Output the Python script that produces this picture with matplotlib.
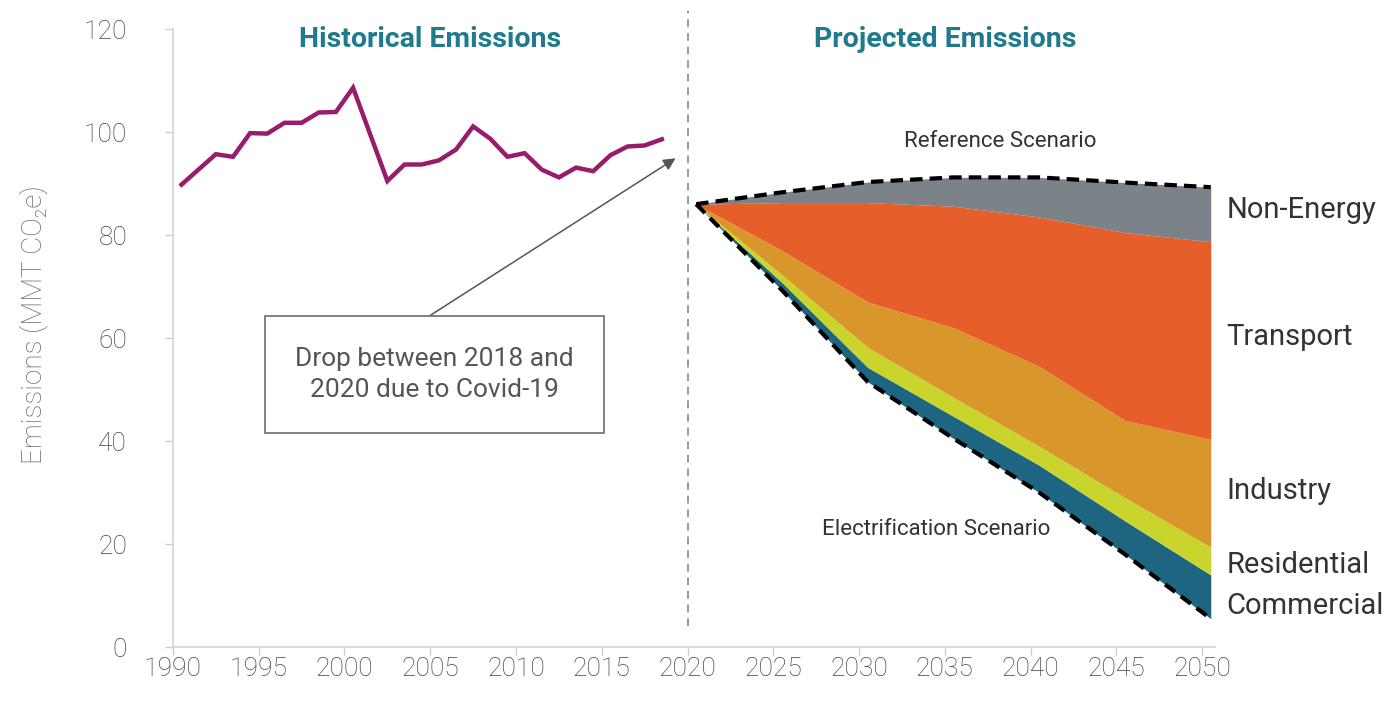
import numpy as np
import matplotlib.pyplot as plt

# historical emissions (MMT CO2e)
hist_years = [1990, 1992, 1993, 1994, 1995, 1996, 1997, 1998, 1999, 2000,
              2002, 2003, 2004, 2005, 2006, 2007, 2008, 2009, 2010, 2011,
              2012, 2013, 2014, 2015, 2016, 2017, 2018]
hist_emissions = [89.8, 95.7, 95.2, 99.8, 99.7, 101.8, 101.8, 103.8, 103.9, 108.6,
                  90.5, 93.7, 93.7, 94.5, 96.6, 101.1, 98.7, 95.2, 95.9, 92.7,
                  91.2, 93.1, 92.4, 95.5, 97.2, 97.4, 98.6]

# projections
proj_years = [2020, 2025, 2030, 2035, 2040, 2045, 2050]
electrification_total = [86.0, 69.3, 51.5, 40.5, 30.0, 18.0, 5.5]
# reductions vs electrification scenario, stacked from the bottom
commercial = [0, 1.5, 2.8, 4.3, 5.3, 6.5, 8.5]
residential = [0, 1.5, 3.9, 3.7, 3.7, 4.5, 5.4]
industry = [0, 4.7, 8.8, 13.5, 15.5, 15.0, 20.9]
transport = [0, 9.3, 19.3, 23.6, 29.0, 36.5, 38.4]
non_energy = [0, 2.0, 4.0, 5.6, 7.7, 9.7, 10.6]

sectors = ['Commercial', 'Residential', 'Industry', 'Transport', 'Non-Energy']
sector_colors = ['#1d6580', '#c9d42c', '#d8962b', '#e65f2a', '#7b8288']
label_y = [8.0, 15.9, 30.3, 60.3, 84.8]

yticks = [0, 20, 40, 60, 80, 100, 120]
xticks = list(range(1990, 2051, 5))

off = 0.5  # points sit in the middle of each year

plt.rcParams['font.family'] = ['Roboto', 'DejaVu Sans']

fig = plt.figure(figsize=(13.88, 7.09), dpi=100)
ax = fig.add_axes([0.1246, 0.0874, 0.7508, 0.8716])

hx = np.array(hist_years) + off
ax.plot(hx, hist_emissions, color='#981c6c', lw=3.2, solid_joinstyle='miter', zorder=3)

px = np.array(proj_years) + off
base = np.array(electrification_total, dtype=float)
layers = [commercial, residential, industry, transport, non_energy]
for vals, col in zip(layers, sector_colors):
    top = base + np.array(vals)
    ax.fill_between(px, base, top, color=col, lw=0, zorder=2)
    base = top
reference_total = base

ax.plot(px, reference_total, color='black', lw=3, ls=(0, (3, 1.7)), zorder=4)
ax.plot(px, electrification_total, color='black', lw=3, ls=(0, (3, 1.7)), zorder=4)

# divider between history and projection
ax.plot([2020, 2020], [4, 123.5], color='#999999', lw=1.4, ls=(0, (4, 3)),
        clip_on=False, zorder=1)

ax.text(2005, 118, 'Historical Emissions', color='#1f7a8e', fontsize=20.5,
        fontweight='bold', ha='center', va='center')
ax.text(2035, 118, 'Projected Emissions', color='#1f7a8e', fontsize=20.5,
        fontweight='bold', ha='center', va='center')
ax.text(2038.2, 98.2, 'Reference Scenario', color='#333333', fontsize=16,
        ha='center', va='center')
ax.text(2034.5, 22.8, 'Electrification Scenario', color='#333333', fontsize=16,
        ha='center', va='center')

for name, yy in zip(sectors, label_y):
    ax.text(2051.4, yy, name, color='#333333', fontsize=21, ha='left', va='center',
            clip_on=False)

ax.annotate('', xy=(2019.3, 94.9), xytext=(2005, 64.4),
            arrowprops=dict(arrowstyle='-|>', color='#555555', lw=1.1,
                            mutation_scale=18, shrinkA=0, shrinkB=0))
ax.text(2005.25, 52.9, 'Drop between 2018 and\n2020 due to Covid-19',
        color='#555555', fontsize=19, ha='center', va='center', linespacing=1.4,
        bbox=dict(boxstyle='square,pad=1.15', fc='white', ec='#777777', lw=1.3))

ax.set_xlim(1990, 2050.75)
ax.set_ylim(0, 120)
ax.set_xticks(xticks)
ax.set_yticks(yticks)
ax.tick_params(axis='both', colors='#cccccc', labelcolor='#444444', labelsize=19,
               length=6, width=1)
ax.tick_params(axis='y', pad=27)
ax.tick_params(axis='x', pad=1)
for lab in ax.get_xticklabels() + ax.get_yticklabels():
    lab.set_fontweight('light')
for s in ['top', 'right']:
    ax.spines[s].set_visible(False)
for s in ['left', 'bottom']:
    ax.spines[s].set_color('#d5d5d5')
    ax.spines[s].set_linewidth(1.2)

ax.set_ylabel('Emissions (MMT CO₂e)', color='#6a6a6a', fontsize=20, fontweight='light')
ax.yaxis.set_label_coords(-0.12, 0.521)

fig.savefig('out.png', dpi=100)
